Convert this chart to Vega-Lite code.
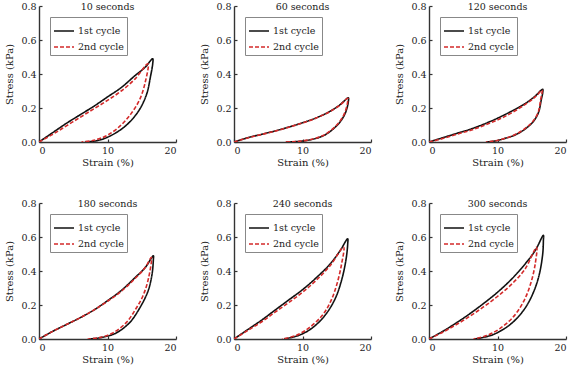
{
  "$schema": "https://vega.github.io/schema/vega-lite/v6.json",
  "background": "white",
  "padding": {"left": 4, "top": 1, "right": 2, "bottom": 0},
  "datasets": {
    "d": [
      {"p":"10 seconds","c":"1st cycle","i":1,"x":0,"y":0},
      {"p":"10 seconds","c":"1st cycle","i":2,"x":2,"y":0.055},
      {"p":"10 seconds","c":"1st cycle","i":3,"x":4,"y":0.11},
      {"p":"10 seconds","c":"1st cycle","i":4,"x":6,"y":0.16},
      {"p":"10 seconds","c":"1st cycle","i":5,"x":8,"y":0.21},
      {"p":"10 seconds","c":"1st cycle","i":6,"x":10,"y":0.265},
      {"p":"10 seconds","c":"1st cycle","i":7,"x":12,"y":0.32},
      {"p":"10 seconds","c":"1st cycle","i":8,"x":14,"y":0.39},
      {"p":"10 seconds","c":"1st cycle","i":9,"x":15.5,"y":0.44},
      {"p":"10 seconds","c":"1st cycle","i":10,"x":16.6,"y":0.49},
      {"p":"10 seconds","c":"1st cycle","i":11,"x":16.6,"y":0.46},
      {"p":"10 seconds","c":"1st cycle","i":12,"x":16.3,"y":0.39},
      {"p":"10 seconds","c":"1st cycle","i":13,"x":15.7,"y":0.28},
      {"p":"10 seconds","c":"1st cycle","i":14,"x":14.5,"y":0.18},
      {"p":"10 seconds","c":"1st cycle","i":15,"x":12.5,"y":0.09},
      {"p":"10 seconds","c":"1st cycle","i":16,"x":10.1,"y":0.03},
      {"p":"10 seconds","c":"1st cycle","i":17,"x":8.5,"y":0.008},
      {"p":"10 seconds","c":"1st cycle","i":18,"x":6.7,"y":0},
      {"p":"10 seconds","c":"2nd cycle","i":1,"x":0,"y":0},
      {"p":"10 seconds","c":"2nd cycle","i":2,"x":2,"y":0.045},
      {"p":"10 seconds","c":"2nd cycle","i":3,"x":4,"y":0.095},
      {"p":"10 seconds","c":"2nd cycle","i":4,"x":6,"y":0.145},
      {"p":"10 seconds","c":"2nd cycle","i":5,"x":8,"y":0.195},
      {"p":"10 seconds","c":"2nd cycle","i":6,"x":10,"y":0.245},
      {"p":"10 seconds","c":"2nd cycle","i":7,"x":12,"y":0.3},
      {"p":"10 seconds","c":"2nd cycle","i":8,"x":14,"y":0.37},
      {"p":"10 seconds","c":"2nd cycle","i":9,"x":15.9,"y":0.46},
      {"p":"10 seconds","c":"2nd cycle","i":10,"x":15.5,"y":0.35},
      {"p":"10 seconds","c":"2nd cycle","i":11,"x":14.7,"y":0.25},
      {"p":"10 seconds","c":"2nd cycle","i":12,"x":13.5,"y":0.17},
      {"p":"10 seconds","c":"2nd cycle","i":13,"x":12,"y":0.1},
      {"p":"10 seconds","c":"2nd cycle","i":14,"x":10,"y":0.04},
      {"p":"10 seconds","c":"2nd cycle","i":15,"x":8,"y":0.01},
      {"p":"10 seconds","c":"2nd cycle","i":16,"x":6.2,"y":0},

      {"p":"60 seconds","c":"1st cycle","i":1,"x":0,"y":0},
      {"p":"60 seconds","c":"1st cycle","i":2,"x":2,"y":0.025},
      {"p":"60 seconds","c":"1st cycle","i":3,"x":4,"y":0.045},
      {"p":"60 seconds","c":"1st cycle","i":4,"x":6,"y":0.065},
      {"p":"60 seconds","c":"1st cycle","i":5,"x":8,"y":0.088},
      {"p":"60 seconds","c":"1st cycle","i":6,"x":10,"y":0.113},
      {"p":"60 seconds","c":"1st cycle","i":7,"x":12,"y":0.142},
      {"p":"60 seconds","c":"1st cycle","i":8,"x":14,"y":0.18},
      {"p":"60 seconds","c":"1st cycle","i":9,"x":15.5,"y":0.22},
      {"p":"60 seconds","c":"1st cycle","i":10,"x":16.7,"y":0.26},
      {"p":"60 seconds","c":"1st cycle","i":11,"x":16.7,"y":0.24},
      {"p":"60 seconds","c":"1st cycle","i":12,"x":16.5,"y":0.2},
      {"p":"60 seconds","c":"1st cycle","i":13,"x":16.1,"y":0.157},
      {"p":"60 seconds","c":"1st cycle","i":14,"x":15.1,"y":0.1},
      {"p":"60 seconds","c":"1st cycle","i":15,"x":13.2,"y":0.04},
      {"p":"60 seconds","c":"1st cycle","i":16,"x":11,"y":0.012},
      {"p":"60 seconds","c":"1st cycle","i":17,"x":9,"y":0.002},
      {"p":"60 seconds","c":"1st cycle","i":18,"x":7.6,"y":0},
      {"p":"60 seconds","c":"2nd cycle","i":1,"x":0,"y":0},
      {"p":"60 seconds","c":"2nd cycle","i":2,"x":2,"y":0.024},
      {"p":"60 seconds","c":"2nd cycle","i":3,"x":4,"y":0.044},
      {"p":"60 seconds","c":"2nd cycle","i":4,"x":6,"y":0.064},
      {"p":"60 seconds","c":"2nd cycle","i":5,"x":8,"y":0.087},
      {"p":"60 seconds","c":"2nd cycle","i":6,"x":10,"y":0.112},
      {"p":"60 seconds","c":"2nd cycle","i":7,"x":12,"y":0.141},
      {"p":"60 seconds","c":"2nd cycle","i":8,"x":14,"y":0.179},
      {"p":"60 seconds","c":"2nd cycle","i":9,"x":15.5,"y":0.218},
      {"p":"60 seconds","c":"2nd cycle","i":10,"x":16.6,"y":0.257},
      {"p":"60 seconds","c":"2nd cycle","i":11,"x":16.6,"y":0.24},
      {"p":"60 seconds","c":"2nd cycle","i":12,"x":16.4,"y":0.2},
      {"p":"60 seconds","c":"2nd cycle","i":13,"x":16,"y":0.157},
      {"p":"60 seconds","c":"2nd cycle","i":14,"x":15,"y":0.1},
      {"p":"60 seconds","c":"2nd cycle","i":15,"x":13.1,"y":0.04},
      {"p":"60 seconds","c":"2nd cycle","i":16,"x":10.9,"y":0.012},
      {"p":"60 seconds","c":"2nd cycle","i":17,"x":8.9,"y":0.002},
      {"p":"60 seconds","c":"2nd cycle","i":18,"x":7.5,"y":0},

      {"p":"120 seconds","c":"1st cycle","i":1,"x":0,"y":0},
      {"p":"120 seconds","c":"1st cycle","i":2,"x":2,"y":0.025},
      {"p":"120 seconds","c":"1st cycle","i":3,"x":4,"y":0.05},
      {"p":"120 seconds","c":"1st cycle","i":4,"x":6,"y":0.075},
      {"p":"120 seconds","c":"1st cycle","i":5,"x":8,"y":0.105},
      {"p":"120 seconds","c":"1st cycle","i":6,"x":10,"y":0.14},
      {"p":"120 seconds","c":"1st cycle","i":7,"x":12,"y":0.18},
      {"p":"120 seconds","c":"1st cycle","i":8,"x":14,"y":0.225},
      {"p":"120 seconds","c":"1st cycle","i":9,"x":15.5,"y":0.27},
      {"p":"120 seconds","c":"1st cycle","i":10,"x":16.6,"y":0.31},
      {"p":"120 seconds","c":"1st cycle","i":11,"x":16.6,"y":0.29},
      {"p":"120 seconds","c":"1st cycle","i":12,"x":16.4,"y":0.25},
      {"p":"120 seconds","c":"1st cycle","i":13,"x":15.95,"y":0.17},
      {"p":"120 seconds","c":"1st cycle","i":14,"x":15,"y":0.11},
      {"p":"120 seconds","c":"1st cycle","i":15,"x":13,"y":0.05},
      {"p":"120 seconds","c":"1st cycle","i":16,"x":11,"y":0.02},
      {"p":"120 seconds","c":"1st cycle","i":17,"x":9.5,"y":0.005},
      {"p":"120 seconds","c":"1st cycle","i":18,"x":8.4,"y":0},
      {"p":"120 seconds","c":"2nd cycle","i":1,"x":0,"y":0},
      {"p":"120 seconds","c":"2nd cycle","i":2,"x":2,"y":0.02},
      {"p":"120 seconds","c":"2nd cycle","i":3,"x":4,"y":0.045},
      {"p":"120 seconds","c":"2nd cycle","i":4,"x":6,"y":0.068},
      {"p":"120 seconds","c":"2nd cycle","i":5,"x":8,"y":0.097},
      {"p":"120 seconds","c":"2nd cycle","i":6,"x":10,"y":0.13},
      {"p":"120 seconds","c":"2nd cycle","i":7,"x":12,"y":0.17},
      {"p":"120 seconds","c":"2nd cycle","i":8,"x":14,"y":0.22},
      {"p":"120 seconds","c":"2nd cycle","i":9,"x":15.5,"y":0.265},
      {"p":"120 seconds","c":"2nd cycle","i":10,"x":16.5,"y":0.305},
      {"p":"120 seconds","c":"2nd cycle","i":11,"x":16.5,"y":0.29},
      {"p":"120 seconds","c":"2nd cycle","i":12,"x":16.3,"y":0.25},
      {"p":"120 seconds","c":"2nd cycle","i":13,"x":15.9,"y":0.17},
      {"p":"120 seconds","c":"2nd cycle","i":14,"x":14.9,"y":0.11},
      {"p":"120 seconds","c":"2nd cycle","i":15,"x":12.9,"y":0.05},
      {"p":"120 seconds","c":"2nd cycle","i":16,"x":11,"y":0.02},
      {"p":"120 seconds","c":"2nd cycle","i":17,"x":9.4,"y":0.005},
      {"p":"120 seconds","c":"2nd cycle","i":18,"x":8.3,"y":0},

      {"p":"180 seconds","c":"1st cycle","i":1,"x":0,"y":0},
      {"p":"180 seconds","c":"1st cycle","i":2,"x":2,"y":0.045},
      {"p":"180 seconds","c":"1st cycle","i":3,"x":4,"y":0.085},
      {"p":"180 seconds","c":"1st cycle","i":4,"x":6,"y":0.125},
      {"p":"180 seconds","c":"1st cycle","i":5,"x":8,"y":0.17},
      {"p":"180 seconds","c":"1st cycle","i":6,"x":10,"y":0.225},
      {"p":"180 seconds","c":"1st cycle","i":7,"x":12,"y":0.285},
      {"p":"180 seconds","c":"1st cycle","i":8,"x":14,"y":0.36},
      {"p":"180 seconds","c":"1st cycle","i":9,"x":15.5,"y":0.42},
      {"p":"180 seconds","c":"1st cycle","i":10,"x":16.7,"y":0.49},
      {"p":"180 seconds","c":"1st cycle","i":11,"x":16.7,"y":0.47},
      {"p":"180 seconds","c":"1st cycle","i":12,"x":16.5,"y":0.38},
      {"p":"180 seconds","c":"1st cycle","i":13,"x":15.9,"y":0.28},
      {"p":"180 seconds","c":"1st cycle","i":14,"x":14.6,"y":0.175},
      {"p":"180 seconds","c":"1st cycle","i":15,"x":13.2,"y":0.095},
      {"p":"180 seconds","c":"1st cycle","i":16,"x":11.2,"y":0.034},
      {"p":"180 seconds","c":"1st cycle","i":17,"x":9,"y":0.008},
      {"p":"180 seconds","c":"1st cycle","i":18,"x":7.3,"y":0},
      {"p":"180 seconds","c":"2nd cycle","i":1,"x":0,"y":0},
      {"p":"180 seconds","c":"2nd cycle","i":2,"x":2,"y":0.045},
      {"p":"180 seconds","c":"2nd cycle","i":3,"x":4,"y":0.085},
      {"p":"180 seconds","c":"2nd cycle","i":4,"x":6,"y":0.125},
      {"p":"180 seconds","c":"2nd cycle","i":5,"x":8,"y":0.17},
      {"p":"180 seconds","c":"2nd cycle","i":6,"x":10,"y":0.222},
      {"p":"180 seconds","c":"2nd cycle","i":7,"x":12,"y":0.28},
      {"p":"180 seconds","c":"2nd cycle","i":8,"x":14,"y":0.355},
      {"p":"180 seconds","c":"2nd cycle","i":9,"x":15.5,"y":0.42},
      {"p":"180 seconds","c":"2nd cycle","i":10,"x":16.4,"y":0.48},
      {"p":"180 seconds","c":"2nd cycle","i":11,"x":16,"y":0.36},
      {"p":"180 seconds","c":"2nd cycle","i":12,"x":15.2,"y":0.256},
      {"p":"180 seconds","c":"2nd cycle","i":13,"x":14.1,"y":0.175},
      {"p":"180 seconds","c":"2nd cycle","i":14,"x":12.7,"y":0.095},
      {"p":"180 seconds","c":"2nd cycle","i":15,"x":10.7,"y":0.034},
      {"p":"180 seconds","c":"2nd cycle","i":16,"x":8.8,"y":0.008},
      {"p":"180 seconds","c":"2nd cycle","i":17,"x":7.1,"y":0},

      {"p":"240 seconds","c":"1st cycle","i":1,"x":0,"y":0},
      {"p":"240 seconds","c":"1st cycle","i":2,"x":2,"y":0.055},
      {"p":"240 seconds","c":"1st cycle","i":3,"x":4,"y":0.11},
      {"p":"240 seconds","c":"1st cycle","i":4,"x":6,"y":0.17},
      {"p":"240 seconds","c":"1st cycle","i":5,"x":8,"y":0.23},
      {"p":"240 seconds","c":"1st cycle","i":6,"x":10,"y":0.29},
      {"p":"240 seconds","c":"1st cycle","i":7,"x":12,"y":0.36},
      {"p":"240 seconds","c":"1st cycle","i":8,"x":14,"y":0.44},
      {"p":"240 seconds","c":"1st cycle","i":9,"x":15.5,"y":0.52},
      {"p":"240 seconds","c":"1st cycle","i":10,"x":16.6,"y":0.59},
      {"p":"240 seconds","c":"1st cycle","i":11,"x":16.6,"y":0.56},
      {"p":"240 seconds","c":"1st cycle","i":12,"x":16.4,"y":0.48},
      {"p":"240 seconds","c":"1st cycle","i":13,"x":15.8,"y":0.36},
      {"p":"240 seconds","c":"1st cycle","i":14,"x":14.8,"y":0.24},
      {"p":"240 seconds","c":"1st cycle","i":15,"x":13.3,"y":0.14},
      {"p":"240 seconds","c":"1st cycle","i":16,"x":11.4,"y":0.064},
      {"p":"240 seconds","c":"1st cycle","i":17,"x":9.5,"y":0.022},
      {"p":"240 seconds","c":"1st cycle","i":18,"x":7.3,"y":0},
      {"p":"240 seconds","c":"2nd cycle","i":1,"x":0,"y":0},
      {"p":"240 seconds","c":"2nd cycle","i":2,"x":2,"y":0.05},
      {"p":"240 seconds","c":"2nd cycle","i":3,"x":4,"y":0.1},
      {"p":"240 seconds","c":"2nd cycle","i":4,"x":6,"y":0.158},
      {"p":"240 seconds","c":"2nd cycle","i":5,"x":8,"y":0.215},
      {"p":"240 seconds","c":"2nd cycle","i":6,"x":10,"y":0.275},
      {"p":"240 seconds","c":"2nd cycle","i":7,"x":12,"y":0.345},
      {"p":"240 seconds","c":"2nd cycle","i":8,"x":14,"y":0.43},
      {"p":"240 seconds","c":"2nd cycle","i":9,"x":16,"y":0.54},
      {"p":"240 seconds","c":"2nd cycle","i":10,"x":15.7,"y":0.44},
      {"p":"240 seconds","c":"2nd cycle","i":11,"x":15,"y":0.32},
      {"p":"240 seconds","c":"2nd cycle","i":12,"x":14.1,"y":0.22},
      {"p":"240 seconds","c":"2nd cycle","i":13,"x":12.9,"y":0.14},
      {"p":"240 seconds","c":"2nd cycle","i":14,"x":10.9,"y":0.064},
      {"p":"240 seconds","c":"2nd cycle","i":15,"x":9,"y":0.02},
      {"p":"240 seconds","c":"2nd cycle","i":16,"x":7,"y":0},

      {"p":"300 seconds","c":"1st cycle","i":1,"x":0,"y":0},
      {"p":"300 seconds","c":"1st cycle","i":2,"x":2,"y":0.045},
      {"p":"300 seconds","c":"1st cycle","i":3,"x":4,"y":0.095},
      {"p":"300 seconds","c":"1st cycle","i":4,"x":6,"y":0.15},
      {"p":"300 seconds","c":"1st cycle","i":5,"x":8,"y":0.21},
      {"p":"300 seconds","c":"1st cycle","i":6,"x":10,"y":0.275},
      {"p":"300 seconds","c":"1st cycle","i":7,"x":12,"y":0.35},
      {"p":"300 seconds","c":"1st cycle","i":8,"x":14,"y":0.44},
      {"p":"300 seconds","c":"1st cycle","i":9,"x":15.5,"y":0.52},
      {"p":"300 seconds","c":"1st cycle","i":10,"x":16.7,"y":0.61},
      {"p":"300 seconds","c":"1st cycle","i":11,"x":16.7,"y":0.58},
      {"p":"300 seconds","c":"1st cycle","i":12,"x":16.6,"y":0.5},
      {"p":"300 seconds","c":"1st cycle","i":13,"x":16.1,"y":0.38},
      {"p":"300 seconds","c":"1st cycle","i":14,"x":15.3,"y":0.28},
      {"p":"300 seconds","c":"1st cycle","i":15,"x":14,"y":0.18},
      {"p":"300 seconds","c":"1st cycle","i":16,"x":12,"y":0.09},
      {"p":"300 seconds","c":"1st cycle","i":17,"x":9.3,"y":0.025},
      {"p":"300 seconds","c":"1st cycle","i":18,"x":6.6,"y":0},
      {"p":"300 seconds","c":"2nd cycle","i":1,"x":0,"y":0},
      {"p":"300 seconds","c":"2nd cycle","i":2,"x":2,"y":0.04},
      {"p":"300 seconds","c":"2nd cycle","i":3,"x":4,"y":0.085},
      {"p":"300 seconds","c":"2nd cycle","i":4,"x":6,"y":0.135},
      {"p":"300 seconds","c":"2nd cycle","i":5,"x":8,"y":0.19},
      {"p":"300 seconds","c":"2nd cycle","i":6,"x":10,"y":0.25},
      {"p":"300 seconds","c":"2nd cycle","i":7,"x":12,"y":0.32},
      {"p":"300 seconds","c":"2nd cycle","i":8,"x":14,"y":0.41},
      {"p":"300 seconds","c":"2nd cycle","i":9,"x":15.7,"y":0.54},
      {"p":"300 seconds","c":"2nd cycle","i":10,"x":15.5,"y":0.44},
      {"p":"300 seconds","c":"2nd cycle","i":11,"x":14.8,"y":0.32},
      {"p":"300 seconds","c":"2nd cycle","i":12,"x":13.8,"y":0.22},
      {"p":"300 seconds","c":"2nd cycle","i":13,"x":12.3,"y":0.13},
      {"p":"300 seconds","c":"2nd cycle","i":14,"x":10.3,"y":0.06},
      {"p":"300 seconds","c":"2nd cycle","i":15,"x":8.4,"y":0.02},
      {"p":"300 seconds","c":"2nd cycle","i":16,"x":6.5,"y":0}
    ]
  },
  "data": {"name": "d"},
  "columns": 3,
  "bounds": "flush",
  "spacing": {"row": 61, "column": 58},
  "concat": [
    {"title": "10 seconds", "width": 137, "height": 136, "transform": [{"filter": "datum.p == '10 seconds'"}],
     "mark": {"type": "line", "clip": true, "strokeWidth": 1.6, "interpolate": "catmull-rom"},
     "encoding": {
       "x": {"field": "x", "type": "quantitative", "scale": {"domain": [0, 20]}, "axis": {"values": [0, 10, 20]}, "title": "Strain (%)"},
       "y": {"field": "y", "type": "quantitative", "scale": {"domain": [0, 0.8]}, "axis": {"values": [0, 0.2, 0.4, 0.6, 0.8], "format": ".1f"}, "title": "Stress (kPa)"},
       "order": {"field": "i"},
       "color": {"field": "c", "type": "nominal", "scale": {"domain": ["1st cycle", "2nd cycle"], "range": ["#111111", "#d42a2a"]}, "title": null},
       "strokeDash": {"field": "c", "type": "nominal", "scale": {"domain": ["1st cycle", "2nd cycle"], "range": [[1, 0], [4, 2]]}, "title": null}
     }},
    {"title": "60 seconds", "width": 137, "height": 136, "transform": [{"filter": "datum.p == '60 seconds'"}],
     "mark": {"type": "line", "clip": true, "strokeWidth": 1.6, "interpolate": "catmull-rom"},
     "encoding": {
       "x": {"field": "x", "type": "quantitative", "scale": {"domain": [0, 20]}, "axis": {"values": [0, 10, 20]}, "title": "Strain (%)"},
       "y": {"field": "y", "type": "quantitative", "scale": {"domain": [0, 0.8]}, "axis": {"values": [0, 0.2, 0.4, 0.6, 0.8], "format": ".1f"}, "title": "Stress (kPa)"},
       "order": {"field": "i"},
       "color": {"field": "c", "type": "nominal", "scale": {"domain": ["1st cycle", "2nd cycle"], "range": ["#111111", "#d42a2a"]}, "title": null},
       "strokeDash": {"field": "c", "type": "nominal", "scale": {"domain": ["1st cycle", "2nd cycle"], "range": [[1, 0], [4, 2]]}, "title": null}
     }},
    {"title": "120 seconds", "width": 137, "height": 136, "transform": [{"filter": "datum.p == '120 seconds'"}],
     "mark": {"type": "line", "clip": true, "strokeWidth": 1.6, "interpolate": "catmull-rom"},
     "encoding": {
       "x": {"field": "x", "type": "quantitative", "scale": {"domain": [0, 20]}, "axis": {"values": [0, 10, 20]}, "title": "Strain (%)"},
       "y": {"field": "y", "type": "quantitative", "scale": {"domain": [0, 0.8]}, "axis": {"values": [0, 0.2, 0.4, 0.6, 0.8], "format": ".1f"}, "title": "Stress (kPa)"},
       "order": {"field": "i"},
       "color": {"field": "c", "type": "nominal", "scale": {"domain": ["1st cycle", "2nd cycle"], "range": ["#111111", "#d42a2a"]}, "title": null},
       "strokeDash": {"field": "c", "type": "nominal", "scale": {"domain": ["1st cycle", "2nd cycle"], "range": [[1, 0], [4, 2]]}, "title": null}
     }},
    {"title": "180 seconds", "width": 137, "height": 136, "transform": [{"filter": "datum.p == '180 seconds'"}],
     "mark": {"type": "line", "clip": true, "strokeWidth": 1.6, "interpolate": "catmull-rom"},
     "encoding": {
       "x": {"field": "x", "type": "quantitative", "scale": {"domain": [0, 20]}, "axis": {"values": [0, 10, 20]}, "title": "Strain (%)"},
       "y": {"field": "y", "type": "quantitative", "scale": {"domain": [0, 0.8]}, "axis": {"values": [0, 0.2, 0.4, 0.6, 0.8], "format": ".1f"}, "title": "Stress (kPa)"},
       "order": {"field": "i"},
       "color": {"field": "c", "type": "nominal", "scale": {"domain": ["1st cycle", "2nd cycle"], "range": ["#111111", "#d42a2a"]}, "title": null},
       "strokeDash": {"field": "c", "type": "nominal", "scale": {"domain": ["1st cycle", "2nd cycle"], "range": [[1, 0], [4, 2]]}, "title": null}
     }},
    {"title": "240 seconds", "width": 137, "height": 136, "transform": [{"filter": "datum.p == '240 seconds'"}],
     "mark": {"type": "line", "clip": true, "strokeWidth": 1.6, "interpolate": "catmull-rom"},
     "encoding": {
       "x": {"field": "x", "type": "quantitative", "scale": {"domain": [0, 20]}, "axis": {"values": [0, 10, 20]}, "title": "Strain (%)"},
       "y": {"field": "y", "type": "quantitative", "scale": {"domain": [0, 0.8]}, "axis": {"values": [0, 0.2, 0.4, 0.6, 0.8], "format": ".1f"}, "title": "Stress (kPa)"},
       "order": {"field": "i"},
       "color": {"field": "c", "type": "nominal", "scale": {"domain": ["1st cycle", "2nd cycle"], "range": ["#111111", "#d42a2a"]}, "title": null},
       "strokeDash": {"field": "c", "type": "nominal", "scale": {"domain": ["1st cycle", "2nd cycle"], "range": [[1, 0], [4, 2]]}, "title": null}
     }},
    {"title": "300 seconds", "width": 137, "height": 136, "transform": [{"filter": "datum.p == '300 seconds'"}],
     "mark": {"type": "line", "clip": true, "strokeWidth": 1.6, "interpolate": "catmull-rom"},
     "encoding": {
       "x": {"field": "x", "type": "quantitative", "scale": {"domain": [0, 20]}, "axis": {"values": [0, 10, 20]}, "title": "Strain (%)"},
       "y": {"field": "y", "type": "quantitative", "scale": {"domain": [0, 0.8]}, "axis": {"values": [0, 0.2, 0.4, 0.6, 0.8], "format": ".1f"}, "title": "Stress (kPa)"},
       "order": {"field": "i"},
       "color": {"field": "c", "type": "nominal", "scale": {"domain": ["1st cycle", "2nd cycle"], "range": ["#111111", "#d42a2a"]}, "title": null},
       "strokeDash": {"field": "c", "type": "nominal", "scale": {"domain": ["1st cycle", "2nd cycle"], "range": [[1, 0], [4, 2]]}, "title": null}
     }}
  ],
  "resolve": {"scale": {"color": "independent", "strokeDash": "independent"}, "legend": {"color": "independent", "strokeDash": "independent"}},
  "config": {
    "font": "DejaVu Serif",
    "view": {"stroke": null},
    "title": {"font": "DejaVu Serif", "fontSize": 9.5, "fontWeight": "normal", "color": "#222", "offset": -10, "baseline": "middle"},
    "axis": {"grid": false, "labelFont": "DejaVu Serif", "titleFont": "DejaVu Serif", "domainColor": "#333", "domainWidth": 1.4, "tickColor": "#333", "tickWidth": 1.2, "tickSize": -3, "labelPadding": 6, "labelFontSize": 9.5, "labelColor": "#222", "titleFontSize": 10, "titleFontWeight": "normal", "titleColor": "#222"},
    "axisY": {"titlePadding": 6},
    "axisX": {"titlePadding": 3},
    "legend": {"orient": "top-left", "offset": 11, "strokeColor": "#888", "padding": 3, "fillColor": "white", "symbolType": "stroke", "symbolSize": 400, "symbolStrokeWidth": 1.6, "labelFont": "DejaVu Serif", "labelFontSize": 9.5, "labelColor": "#222", "rowPadding": -9, "labelOffset": 3, "cornerRadius": 0}
  }
}
